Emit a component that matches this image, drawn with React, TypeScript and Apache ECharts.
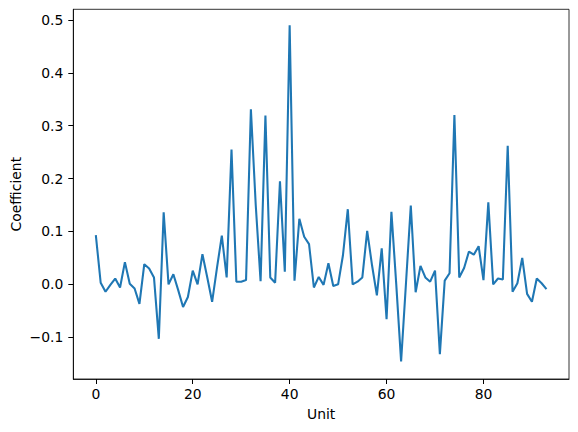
import React, { useEffect, useRef } from "react";
import * as echarts from "echarts";

const units: number[] = Array.from({ length: 94 }, (_, i) => i);
const coefficients: number[] = [
  0.093, 0.003, -0.014, -0.001, 0.011, -0.006, 0.042, 0.001, -0.008, -0.037,
  0.038, 0.030, 0.013, -0.103, 0.136, 0.000, 0.019, -0.011, -0.043, -0.024,
  0.026, 0.000, 0.057, 0.013, -0.033, 0.031, 0.092, 0.013, 0.255, 0.005,
  0.005, 0.008, 0.331, 0.150, 0.006, 0.319, 0.013, 0.003, 0.195, 0.024,
  0.490, 0.007, 0.124, 0.090, 0.076, -0.006, 0.014, -0.001, 0.040, -0.003,
  0.000, 0.055, 0.142, 0.000, 0.005, 0.013, 0.101, 0.036, -0.021, 0.068,
  -0.066, 0.137, 0.000, -0.146, 0.001, 0.149, -0.015, 0.035, 0.013, 0.005,
  0.026, -0.132, 0.007, 0.021, 0.320, 0.013, 0.031, 0.062, 0.056, 0.072,
  0.008, 0.155, 0.000, 0.011, 0.009, 0.262, -0.014, 0.002, 0.050, -0.018,
  -0.033, 0.011, 0.002, -0.009,
];
const xTicks: number[] = [0, 20, 40, 60, 80];
const yTicks: number[] = [-0.1, 0.0, 0.1, 0.2, 0.3, 0.4, 0.5];

const FONT = "DejaVu Sans";
const X_MIN = -4.65;
const X_MAX = 97.65;
const Y_MIN = -0.179;
const Y_MAX = 0.52;
const TICK_LEN = 5;

export default function App() {
  const ref = useRef<HTMLDivElement>(null);
  useEffect(() => {
    if (!ref.current) return;
    const chart = echarts.init(ref.current, undefined, { renderer: "svg" });
    const fmt = (v: number) => v.toFixed(1).replace("-", "\u2212");
    chart.setOption({
      animation: false,
      backgroundColor: "#ffffff",
      grid: {
        left: 73.3,
        right: 9,
        top: 9.3,
        bottom: 53,
        containLabel: false,
        outerBoundsMode: "none",
        show: true,
        borderColor: "#000000",
        borderWidth: 0.8,
        backgroundColor: "transparent",
      },
      xAxis: {
        type: "value",
        min: X_MIN,
        max: X_MAX,
        name: "Unit",
        nameLocation: "middle",
        nameGap: 28,
        nameMoveOverlap: false,
        nameTextStyle: { fontFamily: FONT, fontSize: 13.9, color: "#000" },
        axisLine: { show: true, onZero: false, lineStyle: { color: "#000", width: 0.8 } },
        splitLine: { show: false },
        axisTick: {
          show: true,
          inside: false,
          length: TICK_LEN,
          customValues: xTicks,
          lineStyle: { color: "#000", width: 1 },
        },
        axisLabel: {
          customValues: xTicks,
          margin: 8,
          fontFamily: FONT,
          fontSize: 13.9,
          color: "#000",
          formatter: (v: number) => String(v),
        },
      },
      yAxis: {
        type: "value",
        min: Y_MIN,
        max: Y_MAX,
        name: "Coefficient",
        nameLocation: "middle",
        nameGap: 50,
        nameMoveOverlap: false,
        nameTextStyle: { fontFamily: FONT, fontSize: 13.9, color: "#000" },
        axisLine: { show: true, onZero: false, lineStyle: { color: "#000", width: 0.8 } },
        splitLine: { show: false },
        axisTick: {
          show: true,
          inside: false,
          length: TICK_LEN,
          customValues: yTicks,
          lineStyle: { color: "#000", width: 1 },
        },
        axisLabel: {
          customValues: yTicks,
          margin: 10,
          fontFamily: FONT,
          fontSize: 13.9,
          color: "#000",
          formatter: (v: number) => fmt(v),
        },
      },
      series: [
        {
          type: "line",
          data: units.map((u, i) => [u, coefficients[i]]),
          showSymbol: false,
          symbol: "none",
          lineStyle: { color: "#1f77b4", width: 2.08 },
          itemStyle: { color: "#1f77b4" },
        },
      ],
    });
    return () => chart.dispose();
  }, []);
  return (
    <div
      ref={ref}
      style={{ position: "fixed", left: 0, top: 0, width: 578, height: 432, background: "#fff" }}
    />
  );
}
